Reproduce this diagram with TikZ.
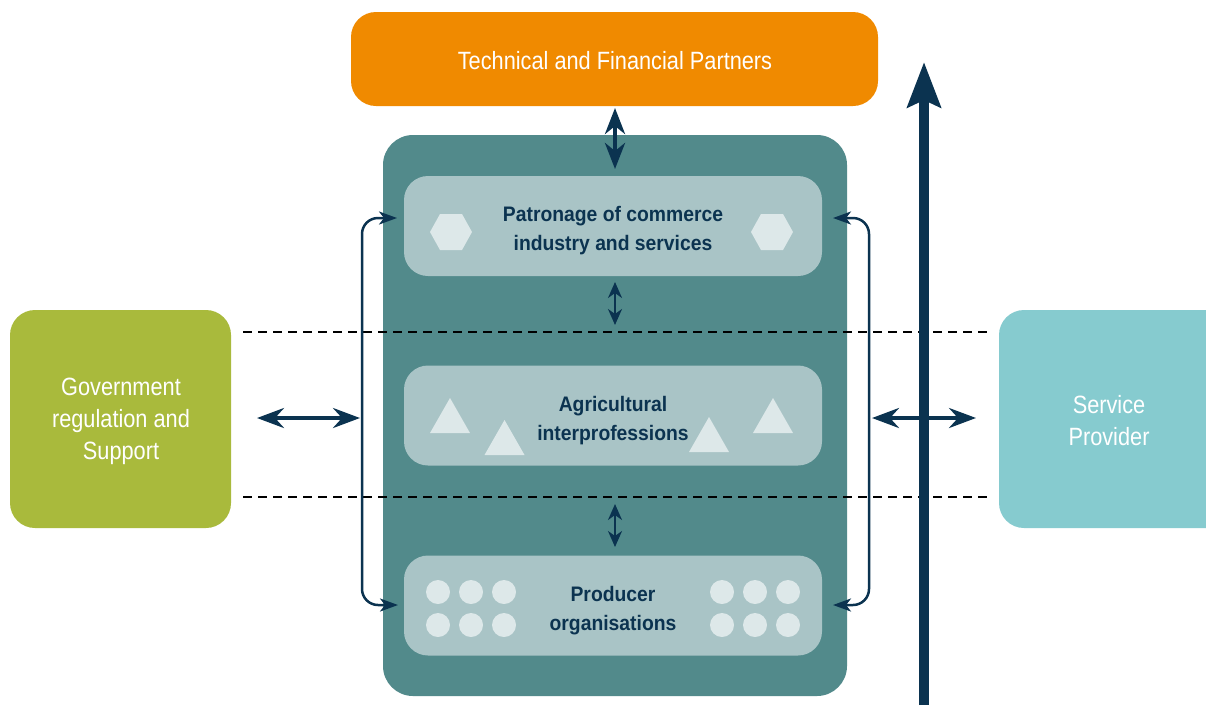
\documentclass[tikz,border=0pt]{standalone}
\usepackage{fontspec}
\setmainfont{Liberation Sans}
\newfontfamily\narrow[FakeStretch=0.87]{Liberation Sans}
\newfontfamily\narrowbold[FakeStretch=0.92]{Liberation Sans Bold}
\usetikzlibrary{arrows.meta,calc}
\definecolor{navy}{HTML}{0B3350}
\definecolor{orangebox}{HTML}{F08A00}
\definecolor{tealbox}{HTML}{528A8B}
\definecolor{innerbox}{HTML}{A9C4C6}
\definecolor{shapefill}{HTML}{DDE8E9}
\definecolor{greenbox}{HTML}{A9BA3C}
\definecolor{cyanbox}{HTML}{86CBCF}
\tikzset{
  outerbox/.style={draw=none, rounded corners=25pt, inner sep=0pt, align=center, text=white, font=\narrow\fontsize{25}{32}\selectfont},
  whitetext/.style={text=white, align=center, inner sep=0pt, font=\narrow\fontsize{25}{32}\selectfont},
  layerbox/.style={draw=none, fill=innerbox, rounded corners=24pt, minimum width=418pt, minimum height=100pt, inner sep=0pt},
  layertext/.style={align=center, inner sep=0pt, text=navy, font=\narrowbold\fontsize{21}{29}\selectfont},
  smallarrow/.style={navy, line width=2pt, {Stealth[length=16pt,width=14pt,inset=5pt]}-{Stealth[length=16pt,width=14pt,inset=5pt]}},
  bigdouble/.style={navy, line width=4pt, {Stealth[length=27pt,width=20pt,inset=9pt]}-{Stealth[length=27pt,width=20pt,inset=9pt]}},
  bracket/.style={navy, line width=2.5pt, rounded corners=16pt, {Stealth[length=18pt,width=13pt,inset=5pt]}-{Stealth[length=18pt,width=13pt,inset=5pt]}},
  divider/.style={black, line width=1.6pt, dash pattern=on 9pt off 6pt},
  deco/.style={fill=shapefill, draw=none}
}
\begin{document}
\begin{tikzpicture}[x=1pt,y=-1pt]
\useasboundingbox (0,0) rectangle (1206,705);
% outer teal box
\node[outerbox, fill=tealbox, minimum width=464pt, minimum height=561pt, rounded corners=30pt] (core) at (615,415.5) {};
% top partner box
\node[outerbox, fill=orangebox, minimum width=527pt, minimum height=94pt] (tfp) at (614.5,59) {};
\node[whitetext] (tfptext) at (615,61) {Technical and Financial Partners};
% side boxes
\node[outerbox, fill=greenbox, minimum width=221pt, minimum height=218pt] (gov) at (120.5,419) {};
\node[whitetext] (govtext) at (121,421) {Government\\regulation and\\Support};
\begin{scope}
\clip (990,300) rectangle (1206,540);
\node[outerbox, fill=cyanbox, minimum width=240pt, minimum height=218pt] (sp) at (1119,419) {};
\end{scope}
\node[whitetext] (sptext) at (1109,421) {Service\\Provider};
% layer boxes
\node[layerbox] (pat) at (613,226) {};
\node[layerbox] (agri) at (613,415.5) {};
\node[layerbox] (prod) at (613,605.5) {};
\node[layertext] (pattext) at (613,231) {Patronage of commerce\\industry and services};
\node[layertext] (agritext) at (613,421) {Agricultural\\interprofessions};
\node[layertext] (prodtext) at (613,610.5) {Producer\\organisations};
% hexagons
\foreach \cx in {451,772}{
  \fill[shapefill] (\cx-21,232) -- (\cx-11,214) -- (\cx+11,214) -- (\cx+21,232) -- (\cx+11,250) -- (\cx-11,250) -- cycle;
}
% triangles
\foreach \tx/\ty in {450/398, 504.5/420, 709/417, 773/398}{
  \fill[shapefill] (\tx-20,\ty+35) -- (\tx,\ty) -- (\tx+20,\ty+35) -- cycle;
}
% circles
\foreach \cx in {438,471,504,722,755,788}{
  \foreach \cy in {592,625}{
    \fill[shapefill] (\cx,\cy) circle (12pt);
  }
}
% dashed dividers
\coordinate (d1l) at (243,332);
\coordinate (d1r) at (988,332);
\coordinate (d2l) at (243,497);
\coordinate (d2r) at (988,497);
\draw[divider] (d1l) -- (d1r);
\draw[divider] (d2l) -- (d2r);
% big vertical arrow
\coordinate (vbot) at (924,705);
\coordinate (vtop) at (924,62);
\draw[navy, line width=10pt, -{Stealth[length=45pt,width=33pt,inset=7pt]}] (vbot) -- (vtop);
% top double arrow
\coordinate (ta) at (615,108);
\coordinate (tb) at (615,169);
\draw[navy, line width=4pt, {Stealth[length=26pt,width=20pt,inset=8pt]}-{Stealth[length=26pt,width=20pt,inset=8pt]}] (ta) -- (tb);
% small arrows between layers
\coordinate (s1a) at (615,282);
\coordinate (s1b) at (615,325);
\coordinate (s2a) at (615,504);
\coordinate (s2b) at (615,547);
\draw[smallarrow] (s1a) -- (s1b);
\draw[smallarrow] (s2a) -- (s2b);
% brackets
\coordinate (lb1) at (397,218);
\coordinate (lb2) at (398,605);
\coordinate (rb1) at (833,218);
\coordinate (rb2) at (833,605);
\draw[bracket] (lb1) -| (362,605) -- (lb2);
\draw[bracket] (rb1) -| (869,605) -- (rb2);
% horizontal double arrows
\coordinate (ga) at (257,418);
\coordinate (gb) at (360,418);
\coordinate (sa) at (872,418);
\coordinate (sb) at (976,418);
\draw[bigdouble] (ga) -- (gb);
\draw[bigdouble] (sa) -- (sb);
\end{tikzpicture}
\end{document}
